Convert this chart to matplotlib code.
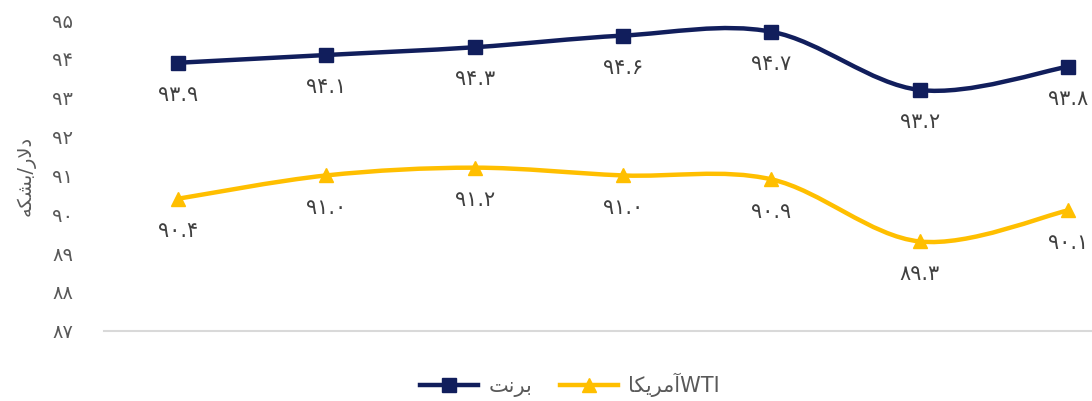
import matplotlib
matplotlib.use("Agg")
import matplotlib.pyplot as plt
from matplotlib.path import Path
from matplotlib.patches import PathPatch
from matplotlib.lines import Line2D
from matplotlib.ticker import FuncFormatter

brent = [93.9, 94.1, 94.3, 94.6, 94.7, 93.2, 93.8]
wti = [90.4, 91.0, 91.2, 91.0, 90.9, 89.3, 90.1]
y_label = "دلار/بشکه"
brent_name = "برنت"
wti_name = "آمریکا"

NAVY = "#111E5C"
GOLD = "#FFBF00"

# presentation forms: isolated, final, initial, medial
FORMS = {
    "ا": ("\uFE8D", "\uFE8E"),
    "آ": ("\uFE81", "\uFE82"),
    "د": ("\uFEA9", "\uFEAA"),
    "ر": ("\uFEAD", "\uFEAE"),
    "ب": ("\uFE8F", "\uFE90", "\uFE91", "\uFE92"),
    "ت": ("\uFE95", "\uFE96", "\uFE97", "\uFE98"),
    "ش": ("\uFEB5", "\uFEB6", "\uFEB7", "\uFEB8"),
    "ک": ("\uFB8E", "\uFB8F", "\uFB90", "\uFB91"),
    "ل": ("\uFEDD", "\uFEDE", "\uFEDF", "\uFEE0"),
    "م": ("\uFEE1", "\uFEE2", "\uFEE3", "\uFEE4"),
    "ن": ("\uFEE5", "\uFEE6", "\uFEE7", "\uFEE8"),
    "ه": ("\uFEE9", "\uFEEA", "\uFEEB", "\uFEEC"),
    "ی": ("\uFBFC", "\uFBFD", "\uFBFE", "\uFBFF"),
}


def fa(text):
    # simple shaping + right-to-left order, matplotlib does neither
    out = []
    i = 0
    while i < len(text):
        c = text[i]
        prev = text[i - 1] if i > 0 else None
        joins_prev = prev in FORMS and len(FORMS[prev]) == 4
        if c not in FORMS:
            out.append(c)
            i += 1
            continue
        nxt = text[i + 1] if i + 1 < len(text) else None
        if c == "ل" and nxt == "ا":
            out.append("\uFEFC" if joins_prev else "\uFEFB")
            i += 2
            continue
        f = FORMS[c]
        joins_next = len(f) == 4 and nxt in FORMS
        if joins_prev and joins_next:
            out.append(f[3])
        elif joins_prev:
            out.append(f[1])
        elif joins_next:
            out.append(f[2])
        else:
            out.append(f[0])
        i += 1
    return "".join(out[::-1])


def fa_num(s):
    return s.translate(str.maketrans("0123456789", "۰۱۲۳۴۵۶۷۸۹"))


def smooth_path(ys):
    x = list(range(len(ys)))
    pts = list(zip(x, ys))
    verts = [pts[0]]
    codes = [Path.MOVETO]
    n = len(pts)
    for i in range(n - 1):
        p0 = pts[i - 1] if i > 0 else pts[i]
        p1 = pts[i]
        p2 = pts[i + 1]
        p3 = pts[i + 2] if i + 2 < n else pts[i + 1]
        c1 = (p1[0] + (p2[0] - p0[0]) / 6, p1[1] + (p2[1] - p0[1]) / 6)
        c2 = (p2[0] - (p3[0] - p1[0]) / 6, p2[1] - (p3[1] - p1[1]) / 6)
        verts += [c1, c2, p2]
        codes += [Path.CURVE4] * 3
    return Path(verts, codes)


plt.rcParams['font.family'] = ['DejaVu Sans']

fig = plt.figure(figsize=(10.92, 4.01), dpi=100)
ax = fig.add_axes([0.095, 0.175, 0.951, 0.775])

for vals, col, mk in [(brent, NAVY, "s"), (wti, GOLD, "^")]:
    ax.add_patch(PathPatch(smooth_path(vals), facecolor="none", edgecolor=col,
                           lw=3.2, capstyle="round", zorder=2))
    ax.plot(range(len(vals)), vals, linestyle="none", marker=mk, color=col,
            markersize=9.5, zorder=3)
    for i, v in enumerate(vals):
        ax.annotate(fa_num(f"{v:.1f}"), (i, v), xytext=(0, -16),
                    textcoords="offset points", ha="center", va="top",
                    fontsize=15, color="#404040")

ax.set_xlim(-0.5, 6.5)
ax.set_ylim(87, 95)
ax.set_yticks(range(87, 96))
ax.yaxis.set_major_formatter(FuncFormatter(lambda v, p: fa_num(str(int(v)))))
ax.tick_params(axis="y", length=0, labelsize=14, labelcolor="#595959", pad=22)
ax.set_xticks([])
for s in ["top", "right", "left"]:
    ax.spines[s].set_visible(False)
ax.spines["bottom"].set_color("#D9D9D9")
ax.spines["bottom"].set_linewidth(1.5)
ax.set_ylabel(fa(y_label), fontsize=14, color="#595959", labelpad=12)

handles = [
    Line2D([], [], color=NAVY, lw=3.2, marker="s", markersize=9.5),
    Line2D([], [], color=GOLD, lw=3.2, marker="^", markersize=9.5),
]
fig.legend(handles, [fa(brent_name), fa(wti_name) + "WTI"], loc="center",
           bbox_to_anchor=(0.522, 0.04), ncol=2, frameon=False, fontsize=15,
           handlelength=2.8, handletextpad=0.5, columnspacing=1.3,
           labelcolor="#595959")

fig.savefig("out.png", dpi=100)
